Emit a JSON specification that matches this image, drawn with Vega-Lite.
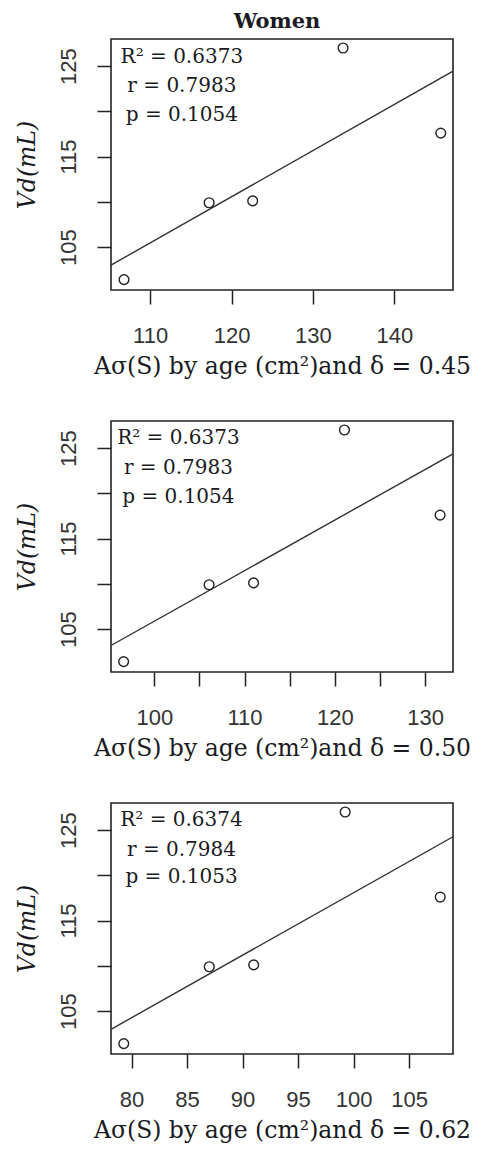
{
  "$schema": "https://vega.github.io/schema/vega-lite/v6.json",
  "background": "white",
  "padding": {"left": 14, "top": 10, "right": 5, "bottom": 5},
  "spacing": 131,
  "bounds": "flush",
  "datasets": {
    "pts1": [{"x": 106.8, "y": 101.4}, {"x": 117.25, "y": 109.9}, {"x": 122.6, "y": 110.1}, {"x": 133.7, "y": 127.0}, {"x": 145.7, "y": 117.6}],
    "pts2": [{"x": 96.6, "y": 101.4}, {"x": 106.07, "y": 109.9}, {"x": 111.0, "y": 110.1}, {"x": 121.07, "y": 127.0}, {"x": 131.67, "y": 117.6}],
    "pts3": [{"x": 79.3, "y": 101.4}, {"x": 87.0, "y": 109.9}, {"x": 91.0, "y": 110.1}, {"x": 99.24, "y": 127.0}, {"x": 107.8, "y": 117.6}],
    "fit1": [{"x": 105.2, "y": 103.0}, {"x": 147.2, "y": 124.45}],
    "fit2": [{"x": 95.2, "y": 103.18}, {"x": 133.1, "y": 124.37}],
    "fit3": [{"x": 78.15, "y": 102.98}, {"x": 108.95, "y": 124.27}],
    "ann1": [{"x": 113.9, "y": 126.0, "label": "R² = 0.6373"}, {"x": 113.9, "y": 122.8, "label": "r = 0.7983"}, {"x": 113.9, "y": 119.55, "label": "p = 0.1054"}],
    "ann2": [{"x": 102.67, "y": 126.17, "label": "R² = 0.6373"}, {"x": 102.67, "y": 122.85, "label": "r = 0.7983"}, {"x": 102.67, "y": 119.65, "label": "p = 0.1054"}],
    "ann3": [{"x": 84.5, "y": 126.08, "label": "R² = 0.6374"}, {"x": 84.5, "y": 122.84, "label": "r = 0.7984"}, {"x": 84.5, "y": 119.82, "label": "p = 0.1053"}]
  },
  "vconcat": [
    {
      "width": 342, "height": 251,
      "title": {"text": "Women", "font": "DejaVu Serif", "fontSize": 21, "fontWeight": "bold", "color": "#1a1a22", "anchor": "middle", "offset": 7, "dx": -5},
      "layer": [
        {
          "data": {"name": "fit1"},
          "mark": {"type": "line", "color": "#333333", "strokeWidth": 1.4, "clip": true},
          "encoding": {
            "x": {"field": "x", "type": "quantitative"},
            "y": {"field": "y", "type": "quantitative"}
          }
        },
        {
          "data": {"name": "pts1"},
          "mark": {"type": "point", "shape": "circle", "filled": false, "size": 95, "stroke": "#222222", "strokeWidth": 1.4, "opacity": 1},
          "encoding": {
            "x": {"field": "x", "type": "quantitative", "scale": {"domain": [105.2, 147.2], "nice": false, "zero": false},
                  "axis": {"values": [110, 120, 130, 140], "title": "Aσ(S) by age (cm²)and δ = 0.45"}},
            "y": {"field": "y", "type": "quantitative", "scale": {"domain": [100.25, 128.0], "nice": false, "zero": false},
                  "axis": {"values": [105, 110, 115, 120, 125], "labelExpr": "datum.value % 10 == 5 ? datum.label : ''", "title": "Vd(mL)"}}
          }
        },
        {
          "data": {"name": "ann1"},
          "mark": {"type": "text", "font": "DejaVu Serif", "fontSize": 20, "align": "center", "baseline": "middle", "color": "#1a1a22"},
          "encoding": {
            "x": {"field": "x", "type": "quantitative"},
            "y": {"field": "y", "type": "quantitative"},
            "text": {"field": "label"}
          }
        }
      ]
    },
    {
      "width": 342, "height": 251,
      "layer": [
        {
          "data": {"name": "fit2"},
          "mark": {"type": "line", "color": "#333333", "strokeWidth": 1.4, "clip": true},
          "encoding": {
            "x": {"field": "x", "type": "quantitative"},
            "y": {"field": "y", "type": "quantitative"}
          }
        },
        {
          "data": {"name": "pts2"},
          "mark": {"type": "point", "shape": "circle", "filled": false, "size": 95, "stroke": "#222222", "strokeWidth": 1.4, "opacity": 1},
          "encoding": {
            "x": {"field": "x", "type": "quantitative", "scale": {"domain": [95.2, 133.1], "nice": false, "zero": false},
                  "axis": {"values": [100, 105, 110, 115, 120, 125, 130], "labelExpr": "datum.value % 10 == 0 ? datum.label : ''", "title": "Aσ(S) by age (cm²)and δ = 0.50"}},
            "y": {"field": "y", "type": "quantitative", "scale": {"domain": [100.25, 128.0], "nice": false, "zero": false},
                  "axis": {"values": [105, 110, 115, 120, 125], "labelExpr": "datum.value % 10 == 5 ? datum.label : ''", "title": "Vd(mL)"}}
          }
        },
        {
          "data": {"name": "ann2"},
          "mark": {"type": "text", "font": "DejaVu Serif", "fontSize": 20, "align": "center", "baseline": "middle", "color": "#1a1a22"},
          "encoding": {
            "x": {"field": "x", "type": "quantitative"},
            "y": {"field": "y", "type": "quantitative"},
            "text": {"field": "label"}
          }
        }
      ]
    },
    {
      "width": 342, "height": 251,
      "layer": [
        {
          "data": {"name": "fit3"},
          "mark": {"type": "line", "color": "#333333", "strokeWidth": 1.4, "clip": true},
          "encoding": {
            "x": {"field": "x", "type": "quantitative"},
            "y": {"field": "y", "type": "quantitative"}
          }
        },
        {
          "data": {"name": "pts3"},
          "mark": {"type": "point", "shape": "circle", "filled": false, "size": 95, "stroke": "#222222", "strokeWidth": 1.4, "opacity": 1},
          "encoding": {
            "x": {"field": "x", "type": "quantitative", "scale": {"domain": [78.15, 108.95], "nice": false, "zero": false},
                  "axis": {"values": [80, 85, 90, 95, 100, 105], "title": "Aσ(S) by age (cm²)and δ = 0.62"}},
            "y": {"field": "y", "type": "quantitative", "scale": {"domain": [100.25, 128.0], "nice": false, "zero": false},
                  "axis": {"values": [105, 110, 115, 120, 125], "labelExpr": "datum.value % 10 == 5 ? datum.label : ''", "title": "Vd(mL)"}}
          }
        },
        {
          "data": {"name": "ann3"},
          "mark": {"type": "text", "font": "DejaVu Serif", "fontSize": 20, "align": "center", "baseline": "middle", "color": "#1a1a22"},
          "encoding": {
            "x": {"field": "x", "type": "quantitative"},
            "y": {"field": "y", "type": "quantitative"},
            "text": {"field": "label"}
          }
        }
      ]
    }
  ],
  "config": {
    "view": {"stroke": "#222222", "strokeWidth": 1.6},
    "axis": {
      "domain": false, "grid": false, "ticks": true,
      "tickColor": "#222222", "tickSize": 14, "tickWidth": 1.5,
      "labelFont": "Liberation Sans", "labelFontSize": 22, "labelColor": "#333333",
      "titleFont": "DejaVu Serif", "titleFontSize": 23.5, "titleFontWeight": "normal", "titleColor": "#1a1a22"
    },
    "axisX": {"labelPadding": 21, "titlePadding": 8, "labelFlush": false, "labelOverlap": false},
    "axisY": {"labelAngle": 270, "labelAlign": "center", "labelBaseline": "bottom", "labelPadding": 17, "titlePadding": 18, "titleFontStyle": "italic", "labelOverlap": false}
  }
}
